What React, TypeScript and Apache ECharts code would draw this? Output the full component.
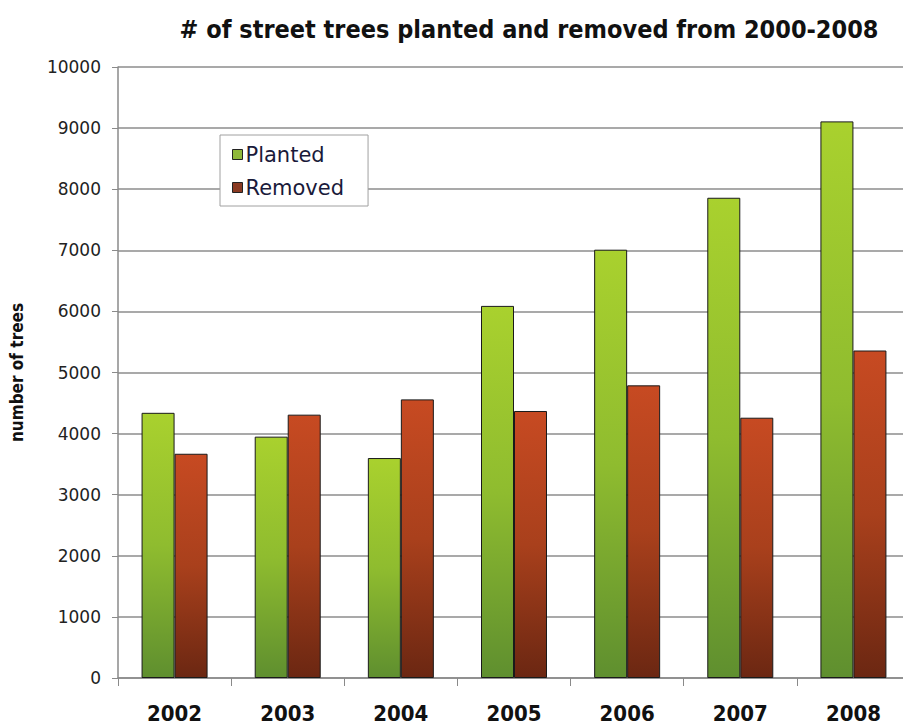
import React, { useEffect, useRef } from "react";
import * as echarts from "echarts";

const years = ["2002", "2003", "2004", "2005", "2006", "2007", "2008"];
const planted = [4340, 3950, 3600, 6090, 7010, 7860, 9110];
const removed = [3670, 4310, 4560, 4370, 4790, 4260, 5360];
const yTicks = { min: 0, max: 10000, interval: 1000 };

export default function App() {
  const ref = useRef<HTMLDivElement>(null);
  useEffect(() => {
    if (!ref.current) return;
    const chart = echarts.init(ref.current, null, { renderer: "svg" });
    const greenGrad = new echarts.graphic.LinearGradient(0, 0, 0, 1, [
      { offset: 0, color: "#a9d12e" },
      { offset: 0.5, color: "#8fbc2f" },
      { offset: 1, color: "#5f8f2f" },
    ]);
    const redGrad = new echarts.graphic.LinearGradient(0, 0, 0, 1, [
      { offset: 0, color: "#c74a22" },
      { offset: 0.5, color: "#a9401c" },
      { offset: 1, color: "#6b2712" },
    ]);
    chart.setOption({
      animation: false,
      backgroundColor: "#ffffff",
      title: {
        text: "# of street trees planted and removed from 2000-2008",
        left: 524,
        top: 12,
        textAlign: "center",
        textStyle: {
          fontFamily: "DejaVu Sans Condensed",
          fontWeight: "bold",
          fontSize: 25,
          color: "#111111",
        },
      },
      legend: {
        orient: "vertical",
        left: 220,
        top: 135,
        backgroundColor: "#ffffff",
        borderColor: "#a0a0a0",
        borderWidth: 1,
        padding: [9, 24, 8, 12],
        itemGap: 12,
        itemWidth: 10,
        itemHeight: 10,
        icon: "rect",
        textStyle: {
          fontFamily: "DejaVu Sans",
          fontSize: 21,
          color: "#1a1a3a",
          padding: [0, 0, 0, -2],
        },
        data: [
          { name: "Planted", itemStyle: { color: "#8fb83a", borderColor: "#222", borderWidth: 1 } },
          { name: "Removed", itemStyle: { color: "#8a3a22", borderColor: "#222", borderWidth: 1 } },
        ],
      },
      grid: { left: 118, top: 67, bottom: 48, right: 0, containLabel: false },
      xAxis: {
        type: "category",
        data: years,
        boundaryGap: true,
        axisLine: { lineStyle: { color: "#8a8a8a", width: 1.5 } },
        axisTick: { show: true, length: 8, alignWithLabel: false, lineStyle: { color: "#8a8a8a" } },
        axisLabel: {
          margin: 24,
          fontFamily: "DejaVu Sans Condensed",
          fontWeight: "bold",
          fontSize: 22,
          color: "#111111",
        },
      },
      yAxis: {
        type: "value",
        min: yTicks.min,
        max: yTicks.max,
        interval: yTicks.interval,
        name: "number of trees",
        nameLocation: "middle",
        nameRotate: 90,
        nameGap: 93,
        nameTextStyle: {
          fontFamily: "DejaVu Sans Condensed",
          fontWeight: "bold",
          fontSize: 17,
          color: "#111111",
        },
        axisLine: { show: true, lineStyle: { color: "#8a8a8a", width: 1.5 } },
        axisTick: { show: true, length: 6, lineStyle: { color: "#8a8a8a" } },
        axisLabel: {
          margin: 17,
          fontFamily: "DejaVu Sans",
          fontSize: 17,
          color: "#222222",
          formatter: (v: number) => String(v),
        },
        splitLine: { lineStyle: { color: "#8c8c8c", width: 1.5 } },
      },
      series: [
        {
          name: "Planted",
          type: "bar",
          data: planted,
          barWidth: 33,
          barGap: "0%",
          itemStyle: { color: greenGrad, borderColor: "#1a1a1a", borderWidth: 1 },
        },
        {
          name: "Removed",
          type: "bar",
          data: removed,
          barWidth: 33,
          barGap: "0%",
          itemStyle: { color: redGrad, borderColor: "#1a1a1a", borderWidth: 1 },
        },
      ],
    });
    return () => chart.dispose();
  }, []);
  return <div ref={ref} style={{ width: 910, height: 726, position: "fixed", left: 0, top: 0 }} />;
}
